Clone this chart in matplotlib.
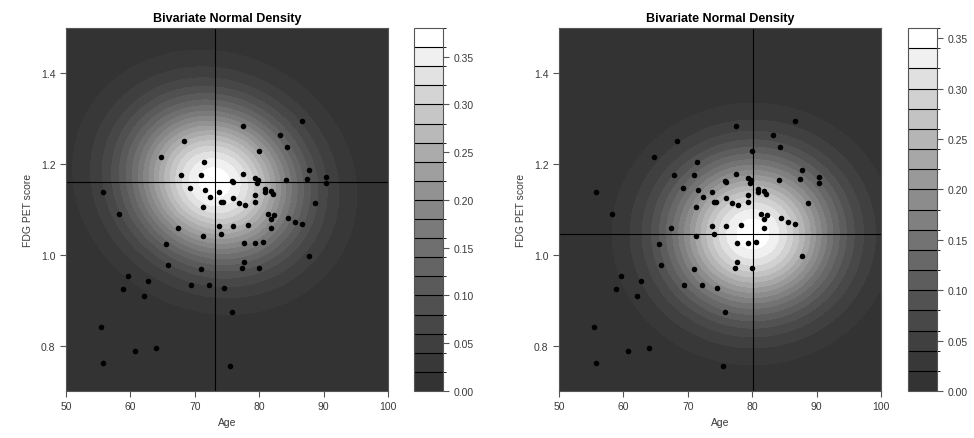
import matplotlib
matplotlib.use("Agg")
import matplotlib.pyplot as plt
from matplotlib.colors import ListedColormap, BoundaryNorm
import numpy as np

plt.rcParams["font.family"] = ["Liberation Sans", "DejaVu Sans"]

AGE = [77.45, 86.6, 83.2, 68.3, 84.3, 80.0, 64.7, 71.5, 87.8, 67.8,
       71.0, 77.45, 90.4, 90.4, 87.45, 84.1, 79.4, 79.8, 79.7, 75.7,
       75.9, 55.8, 69.2, 71.6, 73.7, 72.4, 75.9, 74.0, 74.4, 76.8,
       77.8, 79.3, 79.3, 80.9, 80.9, 81.8, 82.2, 88.6, 71.3, 58.3,
       81.35, 82.3, 81.9, 84.5, 85.6, 86.6, 81.9, 67.4, 73.7, 75.9,
       78.2, 74.1, 71.2, 65.6, 77.7, 79.3, 80.6, 87.8, 65.9, 77.6,
       77.3, 79.9, 71.0, 59.6, 62.8, 58.8, 69.4, 72.2, 74.6, 62.1,
       75.8, 55.5, 60.7, 64.0, 55.8, 75.4]
FDG = [1.284, 1.294, 1.265, 1.252, 1.238, 1.228, 1.215, 1.204, 1.187, 1.175,
       1.177, 1.178, 1.171, 1.159, 1.167, 1.166, 1.169, 1.165, 1.158, 1.163,
       1.160, 1.138, 1.147, 1.142, 1.138, 1.127, 1.125, 1.117, 1.116, 1.114,
       1.111, 1.116, 1.133, 1.145, 1.138, 1.140, 1.135, 1.114, 1.105, 1.090,
       1.090, 1.088, 1.078, 1.081, 1.073, 1.067, 1.059, 1.059, 1.063, 1.063,
       1.066, 1.047, 1.042, 1.024, 1.026, 1.026, 1.028, 0.998, 0.977, 0.984,
       0.971, 0.971, 0.969, 0.953, 0.942, 0.925, 0.934, 0.934, 0.927, 0.910,
       0.875, 0.842, 0.789, 0.794, 0.762, 0.754]

# density parameters for the two panels: mean, sd, correlation, peak height
PANELS = [
    dict(mu=(73.1, 1.16), sd=(9.1, 0.12), rho=-0.1, peak=0.372, zmax=0.38),
    dict(mu=(80.1, 1.046), sd=(9.1, 0.12), rho=0.0, peak=0.352, zmax=0.36),
]
CBAR_TICKS = [0.00, 0.05, 0.10, 0.15, 0.20, 0.25, 0.30, 0.35]

W, H = 974, 439
fig = plt.figure(figsize=(W / 100, H / 100), dpi=100)

TXT = "#3a3a3a"


def px(l, b, w, h):
    return [l / W, (H - b) / H, w / W, h / H]


def density(X, Y, p):
    mx, my = p["mu"]
    sx, sy = p["sd"]
    r = p["rho"]
    u = (X - mx) / sx
    v = (Y - my) / sy
    q = (u * u - 2 * r * u * v + v * v) / (1 - r * r)
    return p["peak"] * np.exp(-0.5 * q)


xs = np.linspace(50, 100, 400)
ys = np.linspace(0.7, 1.5, 400)
X, Y = np.meshgrid(xs, ys)

boxes = [(66, 322, 414), (559, 322, 908)]
for p, (left, width, cleft) in zip(PANELS, boxes):
    ax = fig.add_axes(px(left, 392, width, 363))
    cax = fig.add_axes(px(cleft, 392, 29, 363))

    levels = np.arange(0, p["zmax"] + 1e-9, 0.02)
    n = len(levels) - 1
    t = np.linspace(0, 1, n)
    grays = 0.2 + 0.8 * t ** 1.3
    cmap = ListedColormap([(g, g, g) for g in grays])
    norm = BoundaryNorm(levels, n)

    Z = density(X, Y, p)
    ax.set_facecolor((0.2, 0.2, 0.2))
    cs = ax.contourf(X, Y, Z, levels=levels, cmap=cmap, norm=norm)
    cs.set_edgecolor("face")
    cs.set_linewidth(0.6)
    ax.scatter(AGE, FDG, s=16, color="black", zorder=3, linewidths=0)
    ax.axvline(p["mu"][0], color="black", lw=0.8, zorder=2)
    ax.axhline(p["mu"][1], color="black", lw=0.8, zorder=2)

    ax.set_xlim(50, 100)
    ax.set_ylim(0.7, 1.5)
    ax.set_xticks([50, 60, 70, 80, 90, 100])
    ax.set_yticks([0.8, 1.0, 1.2, 1.4])
    ax.set_yticklabels(["0.8", "1.0", "1.2", "1.4"])
    ax.tick_params(labelsize=7.5, colors="#555555", labelcolor=TXT, length=4, width=0.8)
    for s in ax.spines.values():
        s.set_color("#555555")
        s.set_linewidth(0.8)
    ax.set_xlabel("Age", fontsize=7.5, color=TXT, labelpad=4)
    ax.set_ylabel("FDG PET score", fontsize=7.5, color=TXT, labelpad=6)
    ax.set_title("Bivariate Normal Density", fontsize=9, fontweight="bold", pad=5)

    cb = fig.colorbar(cs, cax=cax, drawedges=True)
    cb.dividers.set_color("black")
    cb.dividers.set_linewidth(0.8)
    cb.outline.set_edgecolor("#555555")
    cb.outline.set_linewidth(0.8)
    cb.set_ticks(CBAR_TICKS)
    cb.set_ticklabels([f"{v:.2f}" for v in CBAR_TICKS])
    cax.tick_params(labelsize=7.5, colors="#555555", labelcolor=TXT, length=4, width=0.8)

fig.savefig("out.png", dpi=100)
